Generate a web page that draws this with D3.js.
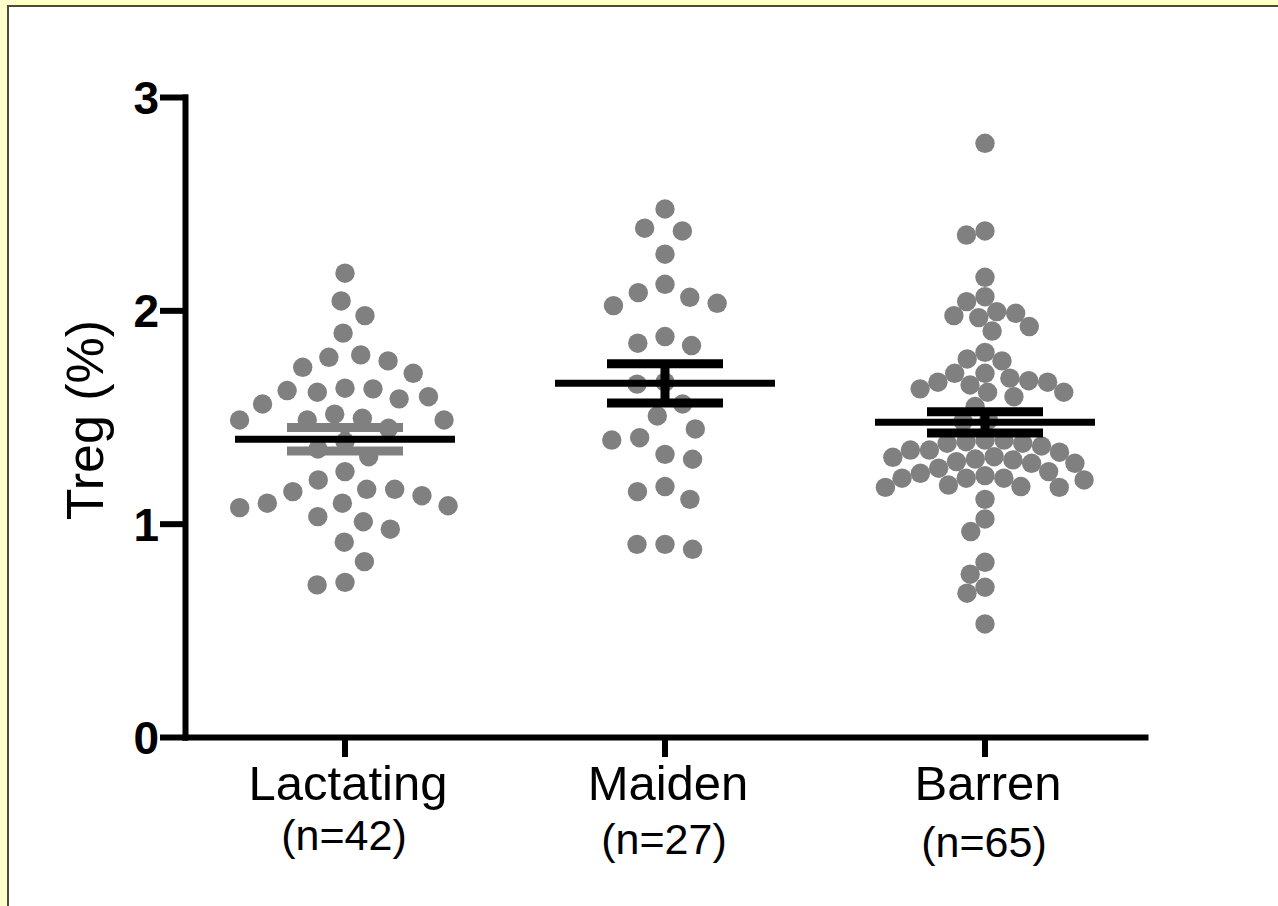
<!DOCTYPE html>
<html>
<head>
<meta charset="utf-8">
<script src="https://cdn.jsdelivr.net/npm/d3@7"></script>
<style>
  html, body { margin: 0; padding: 0; background: #FFFFCC; }
  svg { display: block; }
</style>
</head>
<body>
<svg id="chart" width="1278" height="906"></svg>
<script>
// ---------------- data ----------------
const categories = ["Lactating", "Maiden", "Barren"];
const nLabels = ["(n=42)", "(n=27)", "(n=65)"];
const yTicks = [0, 1, 2, 3];

const lactating = [2.174, 2.044, 1.975, 1.893, 1.780, 1.733, 1.763, 1.791, 1.705,
  1.635, 1.561, 1.624, 1.595, 1.585, 1.616, 1.632, 1.513, 1.494, 1.486, 1.447,
  1.486, 1.486, 1.384, 1.314, 1.350, 1.244, 1.205, 1.161, 1.131, 1.096, 1.075,
  1.084, 1.096, 1.150, 1.161, 1.033, 0.974, 1.009, 0.913, 0.822, 0.713, 0.725];

const maiden = [2.475, 2.372, 2.385, 2.263, 2.122, 2.061, 2.022, 2.033, 2.083,
  1.846, 1.835, 1.877, 1.654, 1.663, 1.561, 1.505, 1.444, 1.392, 1.403, 1.302,
  1.325, 1.150, 1.114, 1.174, 0.903, 0.880, 0.903];

const barren = [2.783, 2.372, 2.353, 2.155, 1.994, 1.975, 2.041, 2.064, 1.924,
  1.903, 1.966, 1.986, 1.803, 1.763, 1.772, 1.705, 1.670, 1.663, 1.632, 1.616,
  1.595, 1.616, 1.650, 1.663, 1.682, 1.705, 1.549, 1.486, 1.480, 1.392, 1.384,
  1.392, 1.377, 1.345, 1.335, 1.311, 1.299, 1.283, 1.283, 1.291, 1.303, 1.314,
  1.345, 1.364, 1.377, 1.236, 1.244, 1.213, 1.213, 1.181, 1.170, 1.174, 1.170,
  1.205, 1.213, 1.225, 1.114, 1.022, 0.963, 0.819, 0.763, 0.702, 0.674, 0.530, 1.260];

const means = [1.396, 1.658, 1.475];
const sems = [0.055, 0.092, 0.050];

// ---------------- layout ----------------
const groups = [lactating, maiden, barren];
const svg = d3.select("#chart");
const font = "'Liberation Sans', Arial, Helvetica, sans-serif";

// white panel with dark frame
svg.append("rect").attr("x", 8).attr("y", 6).attr("width", 1290).attr("height", 920)
  .attr("fill", "#ffffff").attr("stroke", "#4a4a40").attr("stroke-width", 2);

const x = d3.scaleBand().domain(categories).range([185, 1145]);
const y = d3.scaleLinear().domain([0, 3]).range([737, 97]);
const cx = c => x(c) + x.bandwidth() / 2;

const dotR = 9.7;
const gaps = [28, 28, 19];
const dotColor = "#808080";

// beeswarm layout
function swarm(values, gap) {
  const pts = values.map((v, i) => ({ v, py: y(v), i }));
  const order = pts.slice().sort((a, b) => d3.descending(a.v, b.v));
  const placed = [];
  order.forEach(p => {
    const intervals = [];
    placed.forEach(q => {
      const dy = Math.abs(q.py - p.py);
      if (dy < gap) {
        const dx = Math.sqrt(gap * gap - dy * dy);
        intervals.push([q.dx - dx, q.dx + dx]);
      }
    });
    const cands = [0];
    intervals.forEach(iv => { cands.push(iv[0], iv[1]); });
    cands.sort((a, b) => Math.abs(a) - Math.abs(b));
    let chosen = 0;
    for (const c of cands) {
      if (intervals.every(iv => c <= iv[0] + 1e-6 || c >= iv[1] - 1e-6)) { chosen = c; break; }
    }
    p.dx = chosen;
    placed.push(p);
  });
  return pts;
}

groups.forEach((vals, gi) => {
  const pts = swarm(vals, gaps[gi]);
  svg.append("g").selectAll("circle").data(pts).join("circle")
    .attr("cx", d => cx(categories[gi]) + d.dx)
    .attr("cy", d => d.py)
    .attr("r", dotR)
    .attr("fill", dotColor);
});

// mean and SEM
categories.forEach((c, gi) => {
  const g = svg.append("g");
  const m = means[gi], s = sems[gi];
  const errCol = gi === 0 ? "#808080" : "#000000";
  const cxx = cx(c);
  g.append("line").attr("x1", cxx).attr("x2", cxx).attr("y1", y(m + s)).attr("y2", y(m - s))
    .attr("stroke", errCol).attr("stroke-width", 9);
  [m + s, m - s].forEach(v => {
    g.append("line").attr("x1", cxx - 58).attr("x2", cxx + 58).attr("y1", y(v)).attr("y2", y(v))
      .attr("stroke", errCol).attr("stroke-width", 9);
  });
  g.append("line").attr("x1", cxx - 110).attr("x2", cxx + 110).attr("y1", y(m)).attr("y2", y(m))
    .attr("stroke", "#000").attr("stroke-width", 7);
});

// axes
const yAxis = svg.append("g").attr("transform", "translate(185,0)")
  .call(d3.axisLeft(y).tickValues(yTicks).tickFormat(d3.format("d")).tickSize(22).tickSizeOuter(0).tickPadding(4));
yAxis.selectAll("path, line").attr("stroke", "#000").attr("stroke-width", 6).attr("stroke-linecap", "square");
yAxis.selectAll("text").attr("font-family", font).attr("font-size", 46).attr("font-weight", "bold")
  .attr("fill", "#000").attr("dy", "0.36em");

const xAxis = svg.append("g").attr("transform", "translate(0,737)")
  .call(d3.axisBottom(x).tickSize(20).tickSizeOuter(0).tickFormat(""));
xAxis.selectAll("path").attr("stroke", "#000").attr("stroke-width", 6).attr("stroke-linecap", "square");
xAxis.selectAll("line").attr("stroke", "#000").attr("stroke-width", 6);

// category labels
const lab = svg.append("g").attr("font-family", font).attr("fill", "#000").attr("text-anchor", "middle");
categories.forEach((c, gi) => {
  lab.append("text").attr("x", cx(c) + 3).attr("y", 800).attr("font-size", 49).text(c);
  lab.append("text").attr("x", cx(c) - 1).attr("y", [850, 854, 857][gi]).attr("font-size", 43).text(nLabels[gi]);
});

// y title
svg.append("text").attr("transform", "translate(103,420) rotate(-90)")
  .attr("text-anchor", "middle").attr("font-family", font).attr("font-size", 52)
  .attr("fill", "#000").text("Treg (%)");
</script>
</body>
</html>
